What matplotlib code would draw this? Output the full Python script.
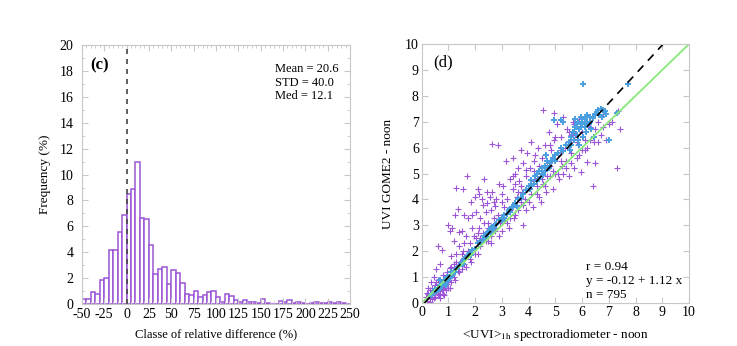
import matplotlib

matplotlib.use("Agg")
import matplotlib.pyplot as plt
import numpy as np
from matplotlib.ticker import MultipleLocator

# ---------------------------------------------------------------------------
# data
# ---------------------------------------------------------------------------

# (c) histogram of relative differences, 5 % classes starting at -50 %
class_start = -50
class_width = 5
frequency = [
    0.4, 0.4, 0.9, 0.75, 1.9, 2.05, 4.15, 4.15, 5.55, 6.9,
    8.5, 8.9, 10.95, 6.65, 6.55, 4.6, 2.3, 2.75, 2.9, 1.55,
    2.65, 2.4, 1.65, 0.8, 0.7, 1.05, 0.55, 0.7, 0.9, 1.0,
    0.55, 0.15, 0.75, 0.6, 0.35, 0.2, 0.3, 0.2, 0.2, 0.1,
    0.4, 0.1, 0.0, 0.0, 0.25, 0.15, 0.35, 0.1, 0.15, 0.1,
    0.0, 0.05, 0.15, 0.05, 0.05, 0.15, 0.05, 0.15, 0.05, 0.0,
]
hist_stats = ["Mean = 20.6", "STD = 40.0", "Med = 12.1"]

# (d) scatter GOME2 vs spectroradiometer
purple_pts = [
    (0.15, 0.25), (0.2, 0.1), (0.25, 0.35), (0.3, 0.2), (0.3, 0.5), (0.35, 0.3), (0.4, 0.15),
    (0.4, 0.6), (0.45, 0.4), (0.5, 0.25), (0.5, 0.7), (0.55, 0.5), (0.6, 0.35), (0.6, 0.9),
    (0.65, 0.6), (0.7, 0.2), (0.7, 0.45), (0.75, 0.8), (0.8, 0.55), (0.8, 1.1), (0.85, 0.3),
    (0.85, 0.7), (0.9, 0.95), (0.9, 0.5), (0.95, 1.2), (0.95, 0.75), (1.0, 0.6), (1.0, 1.0),
    (0.6, 2.2), (0.75, 2.05), (0.55, 1.3), (0.7, 1.5), (0.45, 1.0), (0.35, 0.8), (0.25, 0.6),
    (1.05, 1.35), (1.1, 0.8), (1.1, 1.8), (1.15, 1.1), (1.2, 2.4), (1.2, 1.5), (1.25, 0.9),
    (1.3, 4.45), (1.3, 1.9), (1.35, 3.65), (1.35, 1.25), (1.4, 2.2), (1.45, 1.6), (1.5, 2.8),
    (1.5, 1.3), (1.55, 4.4), (1.55, 2.0), (1.6, 3.4), (1.6, 1.5), (1.65, 2.6), (1.7, 4.9),
    (1.7, 1.8), (1.75, 3.3), (1.8, 2.3), (1.85, 3.9), (1.85, 1.6), (1.9, 2.9), (1.9, 3.4),
    (1.95, 2.1), (2.0, 4.1), (1.0, 3.0), (1.05, 2.8), (1.15, 2.9), (1.4, 2.75), (1.25, 3.4),
    (2.05, 2.5), (2.05, 3.5), (2.1, 1.9), (2.1, 4.4), (2.15, 2.9), (2.2, 3.3), (2.2, 2.2),
    (2.25, 4.0), (2.3, 2.7), (2.3, 3.8), (2.35, 4.8), (2.4, 2.4), (2.4, 3.5), (2.45, 4.3),
    (2.5, 2.9), (2.5, 3.1), (2.55, 4.1), (2.6, 3.6), (2.6, 2.3), (2.65, 6.15), (2.65, 4.3),
    (2.7, 3.3), (2.75, 2.8), (2.8, 4.0), (2.85, 6.1), (2.85, 3.4), (2.9, 2.6), (2.9, 4.6),
    (2.95, 3.1), (3.0, 3.9), (2.15, 4.2), (2.45, 3.85), (2.75, 3.75), (2.55, 2.7),
    (3.05, 4.5), (3.1, 3.2), (3.15, 5.5), (3.2, 4.0), (3.25, 2.9), (3.3, 4.8), (3.35, 3.7),
    (3.4, 5.6), (3.4, 4.4), (3.45, 3.3), (3.5, 5.0), (3.55, 4.1), (3.6, 5.2), (3.6, 3.6),
    (3.65, 4.7), (3.7, 5.9), (3.75, 4.3), (3.8, 3.0), (3.8, 5.4), (3.85, 4.0), (3.9, 4.9),
    (3.95, 5.8), (4.0, 4.5), (3.3, 3.6), (3.0, 4.2), (3.5, 4.6), (3.7, 3.9), (3.9, 5.15),
    (4.05, 5.2), (4.1, 6.2), (4.15, 3.7), (4.2, 4.7), (4.25, 5.7), (4.3, 4.2), (4.35, 6.0),
    (4.4, 5.3), (4.45, 3.9), (4.5, 5.6), (4.55, 7.45), (4.55, 4.6), (4.6, 6.1), (4.65, 4.3),
    (4.7, 5.4), (4.75, 6.6), (4.8, 4.9), (4.85, 5.9), (4.9, 4.4), (4.95, 7.35), (4.95, 6.3),
    (5.0, 5.0), (4.3, 4.8), (4.8, 5.3), (4.2, 5.1),
    (5.05, 6.9), (5.1, 5.7), (5.15, 4.8), (5.2, 6.4), (5.25, 5.3), (5.3, 7.2), (5.35, 6.0),
    (5.4, 5.5), (5.45, 6.7), (5.5, 4.9), (5.55, 6.2), (5.6, 5.8), (5.65, 7.0), (5.7, 5.2),
    (5.75, 6.5), (5.8, 5.6), (5.85, 6.1), (5.9, 7.1), (5.95, 5.05), (6.0, 6.6), (5.3, 5.0),
    (5.6, 6.5), (5.2, 5.9),
    (6.1, 5.9), (6.2, 5.45), (6.3, 6.8), (6.4, 4.5), (6.45, 6.2), (6.5, 5.4), (6.6, 7.0),
    (6.7, 6.5), (6.8, 7.3), (6.9, 6.3), (7.0, 6.9), (7.1, 7.0), (7.3, 5.2), (7.4, 6.7),
    (7.35, 7.4), (6.25, 7.2),
    (0.2, 0.4), (0.3, 0.05), (0.45, 0.2), (0.55, 0.8), (0.65, 0.3), (0.75, 0.5), (0.8, 0.35),
    (0.9, 0.6), (1.0, 0.85), (1.05, 0.6), (1.1, 1.4), (1.2, 1.0), (1.3, 1.6), (1.4, 1.2),
    (1.5, 1.9), (1.6, 2.3), (1.65, 1.4), (1.75, 2.0), (1.8, 1.7), (1.95, 2.6), (2.0, 1.9),
    (2.1, 2.7), (2.2, 2.5), (2.35, 3.1), (2.5, 2.4), (2.6, 2.6), (2.7, 3.9), (2.8, 2.9),
    (3.0, 2.8), (3.1, 3.7), (3.2, 3.1), (3.3, 3.3), (3.4, 4.9), (3.5, 3.4), (3.6, 4.3),
    (3.7, 4.5), (3.8, 3.8), (3.9, 3.6), (4.0, 3.9), (4.1, 4.2), (4.2, 5.5), (4.3, 4.5),
    (4.4, 4.1), (4.5, 4.8), (4.6, 4.5), (4.7, 4.9), (4.8, 6.1), (4.9, 5.1), (5.0, 6.4),
    (5.1, 5.0), (5.2, 5.5), (5.4, 5.2), (5.5, 6.6), (5.6, 5.4), (5.7, 6.9), (5.8, 6.2),
    (6.0, 5.9), (6.1, 6.3), (6.2, 6.0), (6.3, 6.3), (6.5, 6.7), (6.6, 6.2), (6.8, 6.8),
    (5.9, 5.7),
]
blue_pts = [
    (0.35, 0.3), (0.45, 0.4), (0.5, 0.5), (0.55, 0.45), (0.6, 0.6), (0.65, 0.55), (0.7, 0.7),
    (0.75, 0.65), (0.8, 0.8), (0.85, 0.75), (0.9, 0.9), (0.95, 0.85), (1.0, 1.0), (1.05, 0.95),
    (1.1, 1.1), (1.15, 1.05), (1.2, 1.25), (1.3, 1.3), (0.7, 0.9), (0.9, 0.7),
    (1.4, 1.45), (1.5, 1.6), (1.6, 1.7), (1.7, 1.8), (1.8, 1.95), (1.9, 2.05), (2.0, 2.1),
    (2.1, 2.3), (1.55, 1.5), (1.85, 1.85),
    (2.2, 2.35), (2.3, 2.45), (2.35, 2.6), (2.4, 2.5), (2.45, 2.7), (2.5, 2.65), (2.55, 2.8),
    (2.6, 2.75), (2.65, 2.95), (2.7, 2.9), (2.75, 3.0), (2.8, 3.05),
    (2.9, 3.2), (3.0, 3.3), (3.05, 3.25), (3.1, 3.4), (3.2, 3.45), (3.25, 3.6), (3.3, 3.5),
    (3.4, 3.7), (3.5, 3.85), (3.55, 3.75), (3.6, 4.0), (3.7, 4.05),
    (3.8, 4.2), (3.9, 4.35), (4.0, 4.5), (4.05, 4.4), (4.1, 4.75), (4.2, 4.6), (4.25, 4.9),
    (4.3, 5.0), (4.4, 5.1), (4.5, 5.2), (4.55, 4.95), (4.6, 5.3), (4.7, 5.5), (4.75, 5.2),
    (4.8, 5.4), (4.9, 5.6), (5.0, 5.7), (4.4, 4.8), (4.65, 5.7),
    (5.1, 5.8), (5.2, 6.0), (5.3, 5.85), (5.4, 6.1), (5.5, 6.2), (5.55, 5.9), (5.6, 6.4),
    (5.65, 6.6), (5.7, 6.3), (5.75, 6.8), (5.8, 6.5), (5.85, 7.0), (5.9, 6.7), (5.95, 7.2),
    (6.0, 6.9), (6.05, 6.4), (6.1, 7.1), (6.15, 6.6), (6.2, 7.25), (6.25, 6.9), (6.3, 7.0),
    (6.35, 6.7), (5.9, 6.1), (6.05, 8.45), (5.2, 7.05), (5.3, 7.0), (4.95, 7.05),
    (6.5, 7.3), (6.6, 7.45), (6.7, 7.5), (6.75, 7.2), (6.85, 7.4), (6.9, 7.3), (7.0, 6.3),
    (7.3, 7.35), (7.7, 8.45), (6.45, 6.4),
    (0.4, 0.35), (0.5, 0.55), (0.6, 0.5), (0.7, 0.65), (0.8, 0.75), (0.85, 0.9), (0.95, 1.0),
    (1.0, 0.9), (1.1, 1.2), (1.25, 1.2), (2.25, 2.4), (2.4, 2.65), (2.5, 2.75), (2.6, 2.9),
    (3.0, 3.2), (3.1, 3.3), (3.3, 3.65), (3.45, 3.8), (4.1, 4.5), (4.3, 4.7), (4.5, 5.0),
    (4.6, 5.1), (4.85, 5.5), (5.0, 5.5), (5.6, 6.1), (5.7, 6.6), (5.8, 6.9), (5.85, 6.3),
    (5.95, 6.8), (6.0, 7.0), (6.1, 6.8), (6.2, 6.95), (6.3, 7.2), (6.55, 7.35), (6.65, 7.25),
    (6.8, 7.45), (5.75, 7.1), (6.4, 7.15),
]
fit_intercept, fit_slope = -0.12, 1.12
fit_stats = ["r = 0.94", "y = -0.12 + 1.12 x", "n = 795"]

# ---------------------------------------------------------------------------
# style
# ---------------------------------------------------------------------------
plt.rcParams["font.family"] = ["Liberation Serif", "DejaVu Serif"]
plt.rcParams["mathtext.fontset"] = "stix"
plt.rcParams["axes.unicode_minus"] = False
plt.rcParams["font.size"] = 10

PURPLE = "#9b55d6"
BLUE = "#4a9fe0"
GREEN = "#86e878"
FRAME = "#c8c8c8"


def _frame(ax):
    for sp in ax.spines.values():
        sp.set_color(FRAME)
        sp.set_linewidth(0.8)
    ax.tick_params(which="both", direction="in", top=True, right=True, color=FRAME, labelsize=10)
    ax.tick_params(which="major", length=4, pad=2)
    ax.tick_params(which="minor", length=2)


fig = plt.figure(figsize=(7.37, 3.46), dpi=100)

# (c) histogram
ax1 = fig.add_axes([0.111, 0.121, 0.364, 0.749])
classes = class_start + class_width * np.arange(len(frequency))
ax1.bar(classes, frequency, width=class_width, align="edge", facecolor="white",
        edgecolor=PURPLE, linewidth=1.1)
ax1.axvline(0, color="#444444", linestyle=(0, (3, 3)), linewidth=1.2)
ax1.set_xlim(-50, 250)
ax1.set_ylim(0, 20)
ax1.xaxis.set_major_locator(MultipleLocator(25))
ax1.xaxis.set_minor_locator(MultipleLocator(5))
ax1.yaxis.set_major_locator(MultipleLocator(2))
ax1.yaxis.set_minor_locator(MultipleLocator(1))
_frame(ax1)
ax1.tick_params(axis="y", pad=6)
ax1.tick_params(axis="x", pad=3)
ax1.set_xlabel("Classe of relative difference (%)", labelpad=5, fontsize=9)
ax1.set_ylabel("Frequency (%)", labelpad=6, fontsize=9.5)
ax1.text(-40, 18.1, "(c)", fontsize=12, fontweight="bold")
ax1.text(166, 15.8, "\n".join(hist_stats), fontsize=9, linespacing=1.2)

# (d) scatter
ax2 = fig.add_axes([0.572, 0.124, 0.363, 0.749])
px, py = zip(*purple_pts)
bx, by = zip(*blue_pts)
ax2.plot(px, py, "+", color=PURPLE, markersize=5, markeredgewidth=0.8)
ax2.plot(bx, by, "+", color=BLUE, markersize=5, markeredgewidth=1.4)
ax2.plot([0, 10], [0, 10], color=GREEN, linewidth=1.3)
x_fit = np.array([0.1, (10 - fit_intercept) / fit_slope])
ax2.plot(x_fit, fit_intercept + fit_slope * x_fit, color="black", linestyle=(0, (5, 4)), linewidth=1.2)
ax2.set_xlim(0, 10)
ax2.set_ylim(0, 10)
ax2.xaxis.set_major_locator(MultipleLocator(1))
ax2.yaxis.set_major_locator(MultipleLocator(1))
_frame(ax2)
ax2.set_xlabel(r"<UVI>$_{\rm 1h}$ spectroradiometer - noon", labelpad=6, fontsize=9.5)
ax2.set_ylabel("UVI GOME2 - noon", labelpad=8, fontsize=9.5)
ax2.text(0.45, 9.15, "(d)", fontsize=12)
ax2.text(6.15, 0.2, "\n".join(fit_stats), fontsize=9.5, linespacing=1.2)

fig.savefig("out.png", dpi=100)
